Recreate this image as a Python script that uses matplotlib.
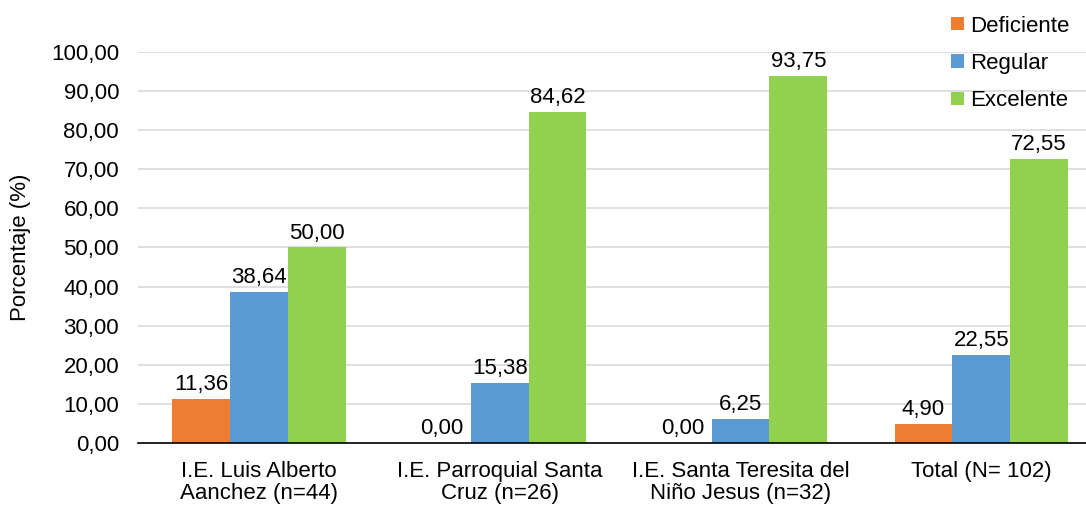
import numpy as np
import matplotlib.pyplot as plt

plt.rcParams['font.family'] = ['Liberation Sans', 'DejaVu Sans']

categories = ['I.E. Luis Alberto\nAanchez (n=44)', 'I.E. Parroquial Santa\nCruz (n=26)',
              'I.E. Santa Teresita del\nNiño Jesus (n=32)', 'Total (N= 102)']
series = ['Deficiente', 'Regular', 'Excelente']
deficiente = [11.36, 0.00, 0.00, 4.90]
regular = [38.64, 15.38, 6.25, 22.55]
excelente = [50.00, 84.62, 93.75, 72.55]
colors = ['#ED7D31', '#5B9BD5', '#92D050']

fs = 16
fig = plt.figure(figsize=(10.86, 5.05), dpi=100)
ax = fig.add_axes([0.1275, 0.1228, 0.887, 0.7743])

x = np.arange(len(categories))
w = 0.24
for i, (name, vals) in enumerate(zip(series, [deficiente, regular, excelente])):
    pos = x + (i - 1) * w
    ax.bar(pos, vals, w, color=colors[i], label=name, zorder=3)
    for p, v in zip(pos, vals):
        ax.text(p, v + 1.0, f'{v:.2f}'.replace('.', ','), ha='center', va='bottom',
                fontsize=fs, zorder=4)

ax.set_xlim(-0.5, len(categories) - 0.5)
ax.set_ylim(0, 100)
ax.set_yticks(np.arange(0, 101, 10))
ax.set_yticklabels([f'{t:.2f}'.replace('.', ',') for t in np.arange(0, 101, 10)])
ax.set_xticks(x)
ax.set_xticklabels(categories, linespacing=1.05)
ax.tick_params(axis='both', length=0, labelsize=fs)
ax.tick_params(axis='y', pad=14)
ax.tick_params(axis='x', pad=13)
ax.yaxis.grid(True, color='#D9D9D9', linewidth=1.2, zorder=0)
for s in ['top', 'right', 'left']:
    ax.spines[s].set_visible(False)
ax.spines['bottom'].set_color('#000000')
ax.spines['bottom'].set_linewidth(1.2)
ax.spines['bottom'].set_zorder(5)
ax.set_ylabel('Porcentaje (%)', fontsize=fs, labelpad=14)

ax.legend(loc='upper left', bbox_to_anchor=(0.872, 0.978), bbox_transform=fig.transFigure,
          frameon=False, fontsize=fs, borderpad=0.2, borderaxespad=0,
          handlelength=0.55, handleheight=0.55, handletextpad=0.3, labelspacing=0.74)

plt.savefig('out.png', dpi=100)
